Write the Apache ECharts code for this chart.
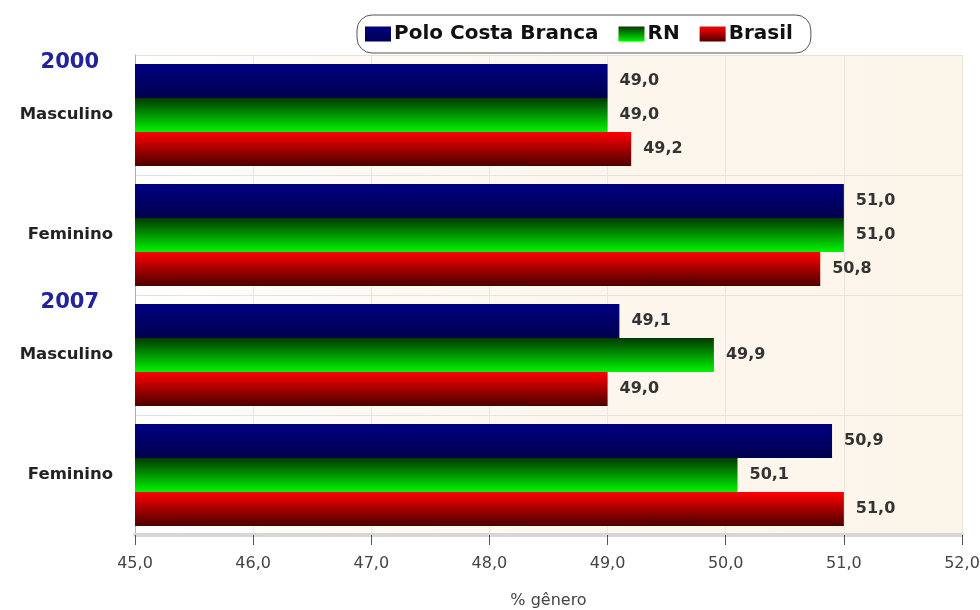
<!DOCTYPE html>
<html>
<head>
<meta charset="utf-8">
<title>Distribuição por gênero</title>
<script src="https://cdn.jsdelivr.net/npm/echarts@6/dist/echarts.min.js"></script>
<style>
  html, body { margin: 0; padding: 0; background: #ffffff; }
  #chart { width: 980px; height: 610px; }
</style>
</head>
<body>
<div id="chart"></div>
<script>
// Categories (top to bottom): year + gender
const years = ['2000', '2000', '2007', '2007'];
const genders = ['Masculino', 'Feminino', 'Masculino', 'Feminino'];
const categories = ['2000 Masculino', '2000 Feminino', '2007 Masculino', '2007 Feminino'];

// Share of population by gender (%)
const poloCostaBranca = [49.0, 51.0, 49.1, 50.9];
const rn = [49.0, 51.0, 49.9, 50.1];
const brasil = [49.2, 50.8, 49.0, 51.0];

const seriesNames = ['Polo Costa Branca', 'RN', 'Brasil'];

// X axis range
const xMin = 45;
const xMax = 52;
const xStep = 1;

const FONT = '"DejaVu Sans", Verdana, sans-serif';

function vGrad(top, bottom) {
  return new echarts.graphic.LinearGradient(0, 0, 0, 1, [
    { offset: 0, color: top },
    { offset: 1, color: bottom }
  ]);
}

const fills = [
  vGrad('#000082', '#00004e'),
  vGrad('#003a00', '#00f400'),
  vGrad('#ff0000', '#4a0000')
];

const fmt = v => Number(v).toFixed(1).replace('.', ',');

function barSeries(name, data, fill) {
  return {
    name: name,
    type: 'bar',
    data: data,
    barGap: '0%',
    barCategoryGap: '15%',
    itemStyle: { color: fill },
    label: {
      show: true,
      position: 'right',
      distance: 12,
      formatter: p => fmt(p.value),
      fontFamily: FONT,
      fontWeight: 'bold',
      fontSize: 16,
      color: '#333333'
    }
  };
}

const chart = echarts.init(document.getElementById('chart'));

chart.setOption({
  animation: false,
  backgroundColor: '#ffffff',
  legend: {
    data: seriesNames,
    left: 357,
    top: 15,
    padding: [9, 18, 9, 8],
    itemGap: 20,
    itemWidth: 26,
    itemHeight: 15,
    icon: 'rect',
    borderColor: '#555555',
    borderWidth: 1,
    borderRadius: 15,
    backgroundColor: '#ffffff',
    textStyle: {
      fontFamily: FONT,
      fontWeight: 'bold',
      fontSize: 20,
      color: '#111111',
      padding: [0, 0, 0, -2]
    }
  },
  grid: {
    left: 135,
    right: 18,
    top: 55,
    bottom: 75,
    outerBoundsMode: 'none',
    containLabel: false,
    show: true,
    borderWidth: 0,
    backgroundColor: new echarts.graphic.LinearGradient(0, 0, 1, 0, [
      { offset: 0, color: '#ffffff' },
      { offset: 0.45, color: '#fcf7ef' },
      { offset: 1, color: '#fcf5ea' }
    ])
  },
  xAxis: {
    type: 'value',
    min: xMin,
    max: xMax,
    interval: xStep,
    name: '% gênero',
    nameLocation: 'middle',
    nameGap: 58,
    nameTextStyle: {
      fontFamily: FONT,
      fontSize: 16,
      color: '#444444'
    },
    axisLine: { show: true, lineStyle: { color: '#d6d6d6', width: 4 } },
    axisTick: { show: true, length: 10, lineStyle: { color: '#555555', width: 1 } },
    axisLabel: {
      formatter: v => fmt(v),
      fontFamily: FONT,
      fontSize: 16,
      color: '#444444',
      margin: 21
    },
    splitLine: { show: true, lineStyle: { color: '#ebe5dc', width: 1 } }
  },
  yAxis: {
    type: 'category',
    data: categories,
    inverse: true,
    axisLine: { show: true, lineStyle: { color: '#b0b0b0', width: 1 } },
    axisTick: { show: false },
    splitLine: { show: true, lineStyle: { color: '#e8e2d8', width: 1 } },
    axisLabel: {
      margin: 22,
      formatter: (value, idx) => {
        const showYear = idx === 0 || years[idx] !== years[idx - 1];
        if (showYear) {
          return '{yr|' + years[idx] + '}\n{cat|' + genders[idx] + '}\n{pad| }';
        }
        return '{cat|' + genders[idx] + '}';
      },
      rich: {
        yr: {
          fontFamily: FONT,
          fontWeight: 'bold',
          fontSize: 21,
          color: '#22229a',
          lineHeight: 54,
          padding: [4, 14, 0, 0]
        },
        cat: {
          fontFamily: FONT,
          fontWeight: 'bold',
          fontSize: 16.5,
          color: '#222222',
          lineHeight: 54
        },
        pad: {
          fontSize: 10,
          lineHeight: 54
        }
      }
    }
  },
  series: [
    barSeries(seriesNames[0], poloCostaBranca, fills[0]),
    barSeries(seriesNames[1], rn, fills[1]),
    barSeries(seriesNames[2], brasil, fills[2])
  ]
});
</script>
</body>
</html>
